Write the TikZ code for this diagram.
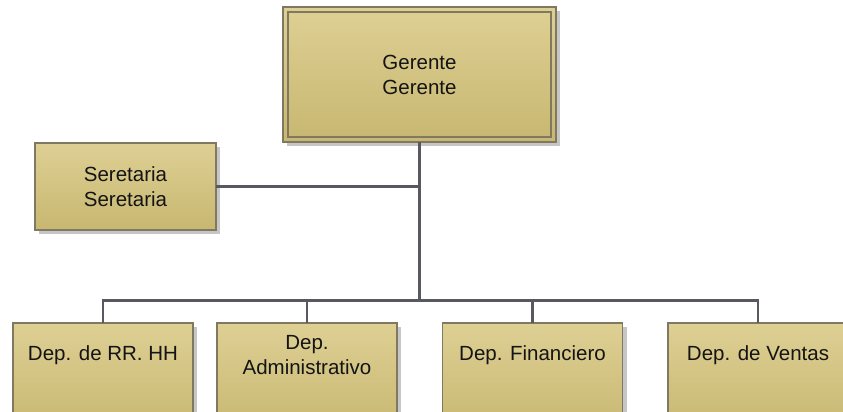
\documentclass[tikz,border=0pt]{standalone}
\usepackage{fontspec}
\setmainfont{Liberation Sans}
\newfontfamily\titlefont{Liberation Serif}
\definecolor{boxtop}{RGB}{222,208,148}
\definecolor{boxbot}{RGB}{199,183,113}
\definecolor{boxedge}{RGB}{128,120,96}
\definecolor{linkgray}{RGB}{88,88,96}
\definecolor{shadowgray}{RGB}{198,198,198}
\tikzset{
  orgbox/.style={rectangle, draw=boxedge, line width=1.2pt,
    top color=boxtop, bottom color=boxbot,
    inner sep=0pt, outer sep=0pt, align=center,
    font=\fontsize{20.5}{25}\selectfont, text=black!92,
    preaction={fill=shadowgray, transform canvas={shift={(4pt,-4pt)}}}},
  depbox/.style={orgbox, anchor=north, minimum width=180pt, minimum height=110pt},
  deptext/.style={align=center, inner sep=0pt,
    font=\fontsize{20.5}{25}\selectfont, text=black!92},
  link/.style={draw=linkgray, line width=2.6pt}
}
\begin{document}
\begin{tikzpicture}[x=1pt, y=-1pt]
  \useasboundingbox (0,0) rectangle (843,412);
  \clip (0,0) rectangle (843,412);

  % heading above the chart (only its descenders reach into the frame)
  \node[anchor=base west, inner sep=0pt,
        font=\titlefont\bfseries\fontsize{26}{30}\selectfont]
    (title) at (3,-7) {\spaceskip=14.5pt plus 2pt\relax Diagrama del Organigrama};

  % top management
  \node[orgbox, minimum width=273pt, minimum height=135pt] (ger) at (419.5,74.5) {Gerente\\Gerente};
  \draw[boxedge, line width=1.2pt]
    ([shift={(5pt,-5pt)}]ger.north west) rectangle ([shift={(-5pt,5pt)}]ger.south east);

  % staff position
  \node[orgbox, minimum width=181pt, minimum height=87pt] (sec) at (125.5,186.5) {Seretaria\\Seretaria};

  % departments
  \node[depbox] (rrhh) at (103,323) {};
  \node[depbox] (adm)  at (307,323) {};
  \node[depbox] (fin)  at (532.5,323) {};
  \node[depbox] (ven)  at (758,323) {};
  \node[deptext] (rrhhT) at ([yshift=-32pt]rrhh.north) {Dep. de RR. HH};
  \node[deptext] (admT)  at ([yshift=-32pt]adm.north)  {Dep.\\Administrativo};
  \node[deptext] (finT)  at ([yshift=-32pt]fin.north)  {Dep. Financiero};
  \node[deptext] (venT)  at ([yshift=-32pt]ven.north)  {Dep. de Ventas};

  % connectors
  \coordinate (bus) at (419.5,300.5);
  \draw[link] (ger.south) -- (bus);
  \draw[link] (sec.east) -- (sec.east -| ger.south);
  \draw[link] (rrhh.north) |- (bus);
  \draw[link] (adm.north) |- (bus);
  \draw[link] (fin.north) |- (bus);
  \draw[link] (ven.north) |- (bus);
\end{tikzpicture}
\end{document}
